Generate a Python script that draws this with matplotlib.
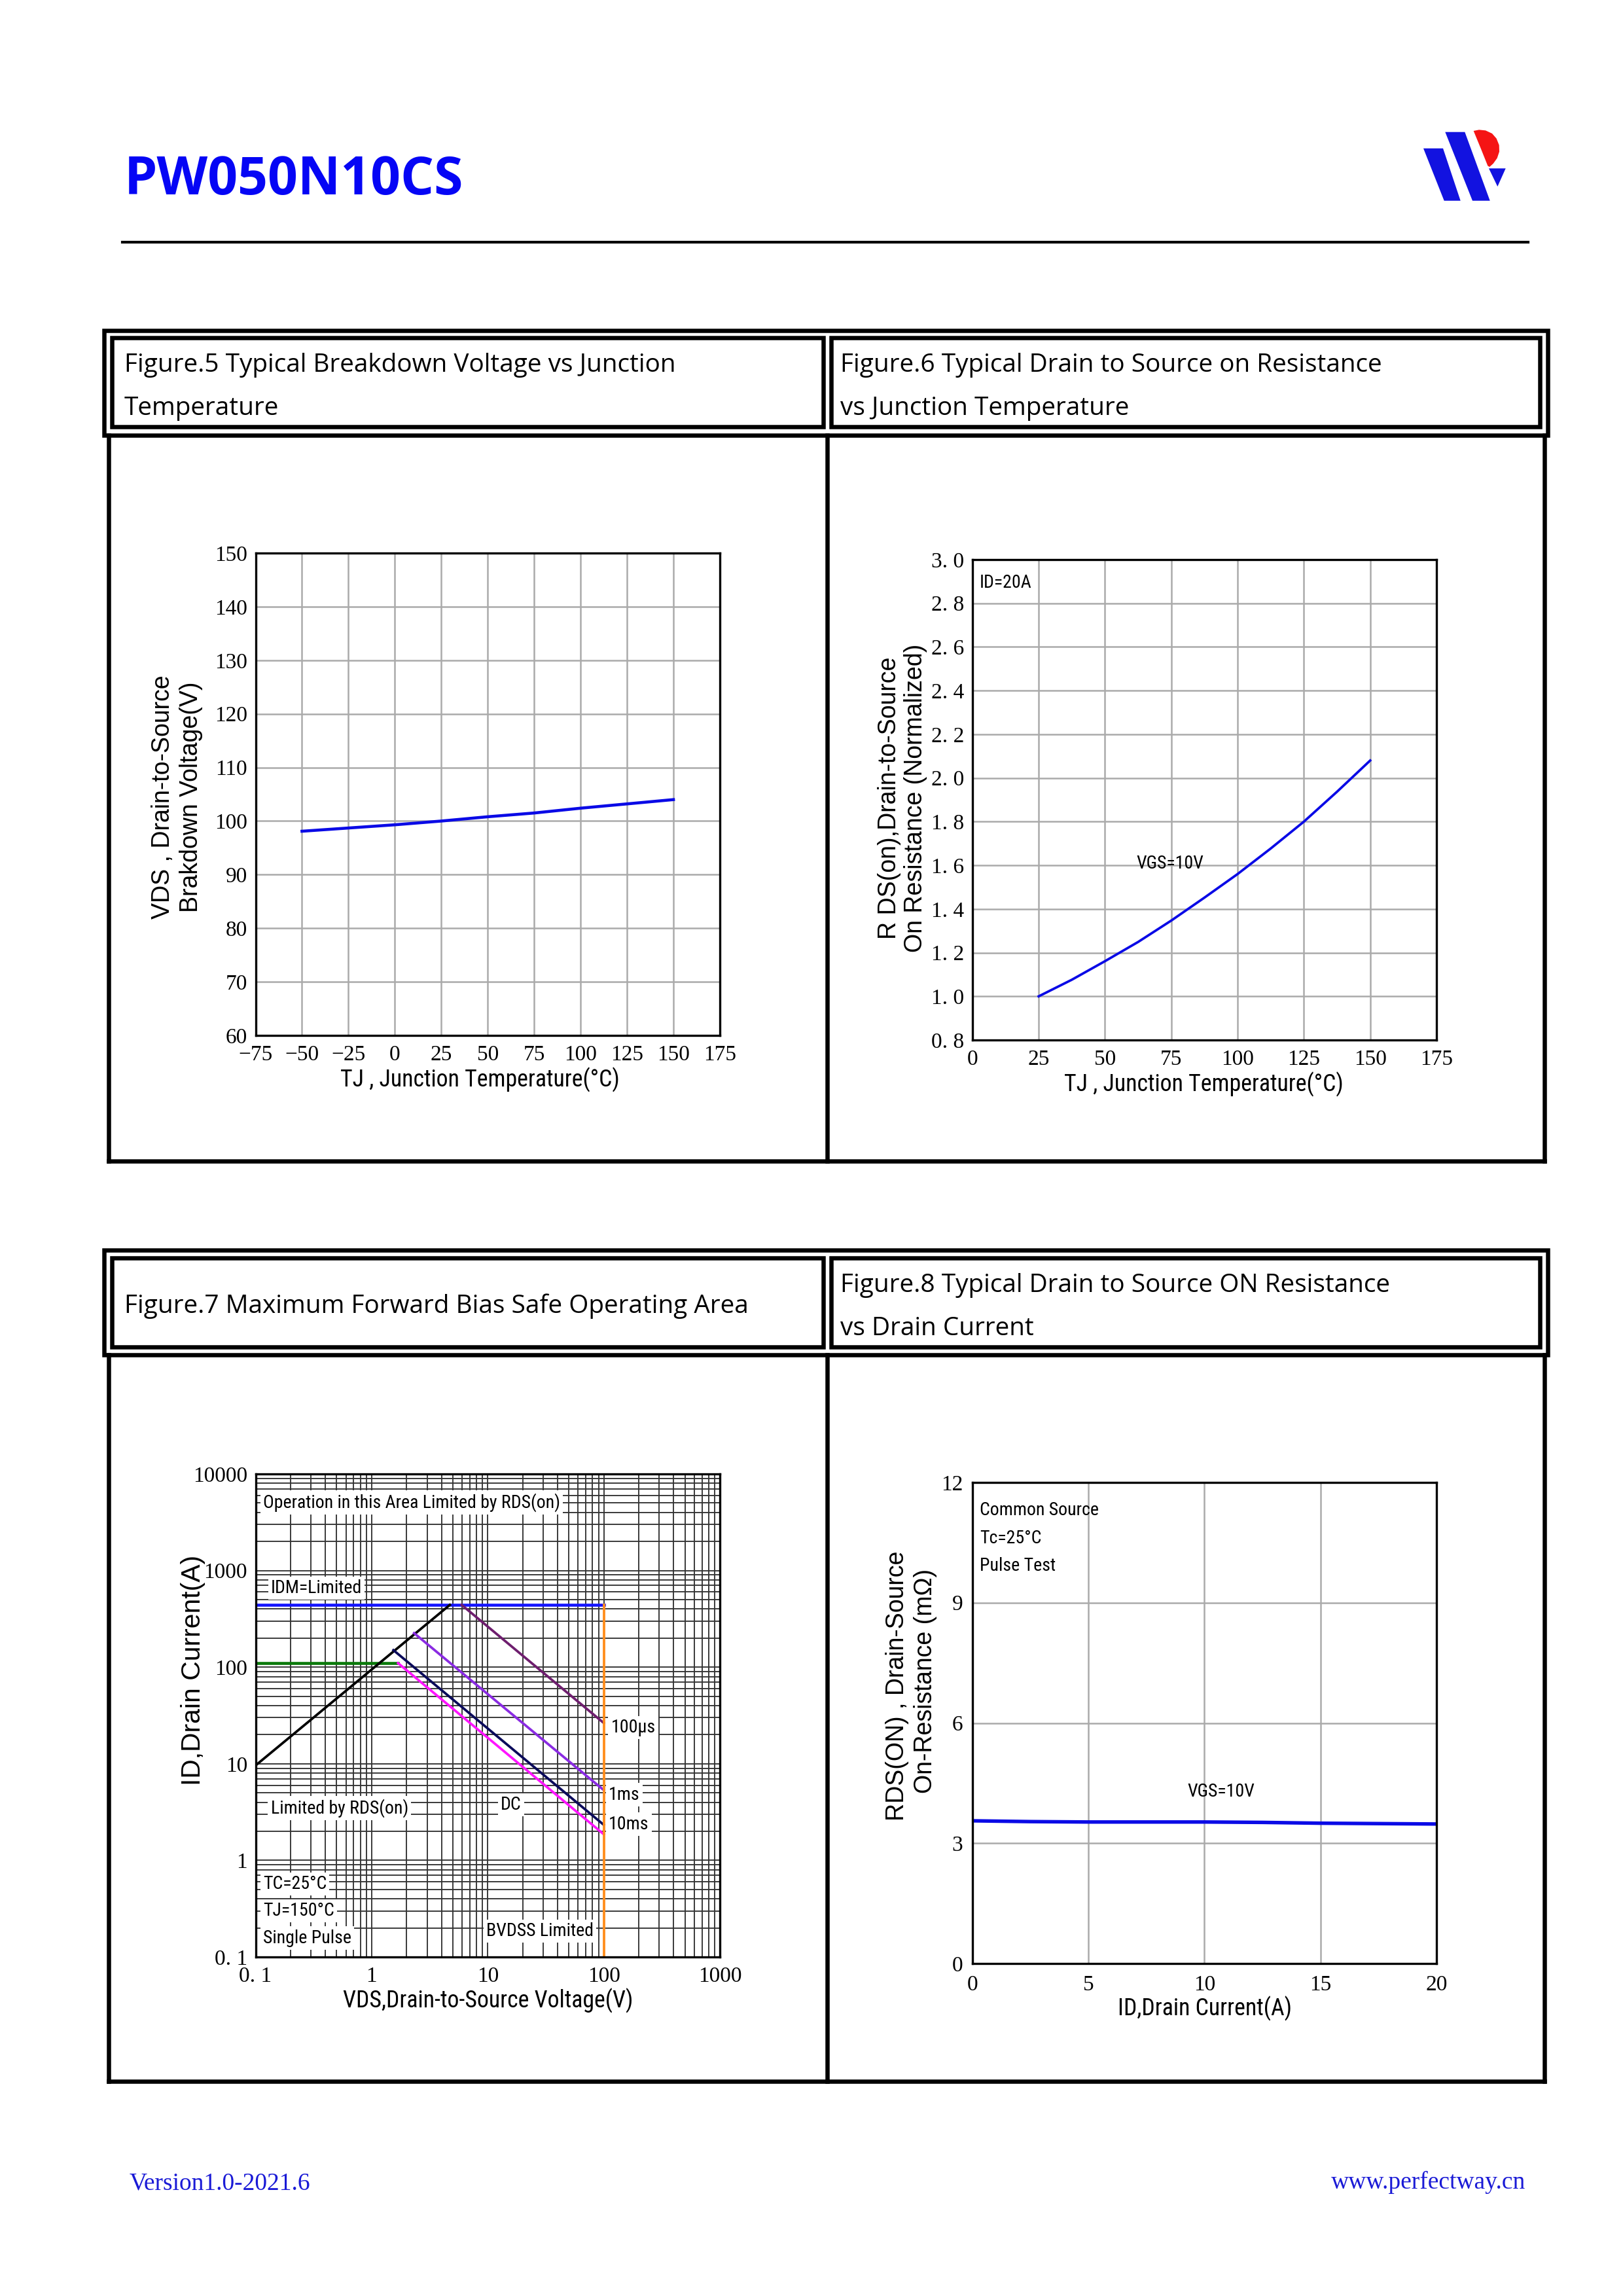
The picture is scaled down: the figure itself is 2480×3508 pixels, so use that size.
import matplotlib
matplotlib.use('Agg')
import matplotlib.pyplot as plt
from matplotlib import font_manager
from matplotlib.patches import Polygon, Rectangle
from matplotlib.ticker import LogLocator, NullFormatter

W, H = 2480, 3508

# ---- data ----
# Figure.5 breakdown voltage vs junction temperature
tj5 = [-50, -25, 0, 25, 50, 75, 100, 125, 150]
bv5 = [98.1, 98.7, 99.3, 100.0, 100.8, 101.5, 102.4, 103.2, 104.0]

# Figure.6 normalized RDS(on) vs junction temperature
tj6 = [25, 37.5, 50, 62.5, 75, 87.5, 100, 112.5, 125, 137.5, 150]
rn6 = [1.0, 1.076, 1.161, 1.249, 1.347, 1.452, 1.56, 1.677, 1.80, 1.937, 2.08]

# Figure.7 safe operating area (VDS, ID)
idm_v, idm_i = [0.1, 100], [441, 441]
lim_v, lim_i = [0.1, 1.69], [110, 110]
rds_v, rds_i = [0.1, 4.72], [9.6, 441]
us100_v, us100_i = [5.96, 100], [441, 26.4]
ms1_v, ms1_i = [2.32, 100], [225, 5.33]
ms10_v, ms10_i = [1.54, 100], [150, 2.33]
dc_v, dc_i = [1.69, 100], [110, 1.86]
bv_v, bv_i = [100, 100], [0.1, 441]

# Figure.8 RDS(on) vs drain current
id8 = [0, 2.5, 5, 7.5, 10, 12.5, 15, 17.5, 20]
r8 = [3.56, 3.54, 3.53, 3.53, 3.53, 3.52, 3.50, 3.49, 3.48]

SERIF = ['Liberation Serif', 'DejaVu Serif']
SANS = ['Liberation Sans', 'DejaVu Sans']
HEAD = ['Open Sans', 'Noto Sans', 'DejaVu Sans']

# condensed font for the small labels if one exists, else plain sans made smaller
NARROW, nw = SANS, 1.0
for name, w in [('Liberation Sans Narrow', 0.82), ('Arial Narrow', 0.82), ('Roboto Condensed', 0.88)]:
    try:
        font_manager.findfont(name, fallback_to_default=False)
        NARROW, nw = [name] + SANS, w
        break
    except ValueError:
        pass

fig = plt.figure(figsize=(W / 300, H / 300), dpi=300)

# page overlay in pixel coordinates
pg = fig.add_axes([0, 0, 1, 1])
pg.set_xlim(0, W)
pg.set_ylim(H, 0)
pg.axis('off')


def px(l, t, r, b):
    return [l / W, 1 - b / H, (r - l) / W, (b - t) / H]


def line(x, y, lw=1.56):
    pg.plot(x, y, color='black', lw=lw, solid_capstyle='projecting')


def rect(l, t, r, b, lw=1.56):
    pg.add_patch(Rectangle((l, t), r - l, b - t, fill=False, ec='black', lw=lw))


# header
pg.text(190, 297, 'PW050N10CS', family=HEAD, weight='bold', fontsize=19.3,
        color='#0505f5', va='baseline', ha='left')
line([187, 2335], [370, 370], lw=1.0)

# logo
pg.add_patch(Polygon([(2175, 226.7), (2205, 226.7), (2231.7, 306.7), (2206.7, 306.7)],
                     closed=True, fc='#1212e0', ec='none'))
pg.add_patch(Polygon([(2208.3, 201.7), (2238.3, 201.7), (2276.7, 306.7), (2250, 306.7)],
                     closed=True, fc='#1212e0', ec='none'))
red = [(305, 90), (330, 85), (360, 88), (390, 102), (410, 125), (422, 155), (423, 185),
       (413, 215), (395, 240), (378, 255), (370, 250), (340, 175)]
pg.add_patch(Polygon([(x / 3 + 2150, y / 3 + 170) for x, y in red], closed=True,
                     fc='#f51414', ec='none'))
pg.add_patch(Polygon([(2275, 257.3), (2300.7, 257.3), (2288.3, 285)], closed=True,
                     fc='#1212e0', ec='none'))

# table frames
L, M, R = 165.7, 1264, 2360
for top, bot in [(504.7, 1774.3), (1910, 3180)]:
    hb = top + 160
    rect(159.3, top, 2365, hb)
    rect(171.3, top + 11.5, 1258, hb - 12.4)
    rect(1270, top + 11.5, 2353, hb - 12.4)
    line([L, L], [hb, bot])
    line([M, M], [hb, bot])
    line([R, R], [hb, bot])
    line([L, R], [bot, bot])

hfs = 9.3
pg.text(190, 568, 'Figure.5 Typical Breakdown Voltage vs Junction', family=HEAD, fontsize=hfs, va='baseline')
pg.text(190, 634, 'Temperature', family=HEAD, fontsize=hfs, va='baseline')
pg.text(1284, 568, 'Figure.6 Typical Drain to Source on Resistance', family=HEAD, fontsize=hfs, va='baseline')
pg.text(1284, 634, 'vs Junction Temperature', family=HEAD, fontsize=hfs, va='baseline')
pg.text(190, 2006, 'Figure.7 Maximum Forward Bias Safe Operating Area', family=HEAD, fontsize=hfs, va='baseline')
pg.text(1284, 1974, 'Figure.8 Typical Drain to Source ON Resistance', family=HEAD, fontsize=hfs, va='baseline')
pg.text(1284, 2040, 'vs Drain Current', family=HEAD, fontsize=hfs, va='baseline')

# footer
pg.text(198, 3345, 'Version1.0-2021.6', family=SERIF, fontsize=9, color='#1a1ad6', va='baseline')
pg.text(2331, 3344, 'www.perfectway.cn', family=SERIF, fontsize=9, color='#1a1ad6',
        va='baseline', ha='right')

# axis titles placed on the page
xfs, yfs = 7.55 / nw, 9.0
pg.text(733, 1650, 'TJ , Junction Temperature(°C)', family=NARROW, fontsize=xfs, ha='center', va='center')
pg.text(248.6, 1218, 'VDS , Drain-to-Source', family=SANS, fontsize=yfs, rotation=90, ha='center', va='center')
pg.text(291.6, 1218, 'Brakdown Voltage(V)', family=SANS, fontsize=yfs, rotation=90, ha='center', va='center')
pg.text(1839, 1657, 'TJ , Junction Temperature(°C)', family=NARROW, fontsize=xfs, ha='center', va='center')
pg.text(1358.8, 1219, 'R DS(on),Drain-to-Source', family=SANS, fontsize=yfs, rotation=90, ha='center', va='center')
pg.text(1399.3, 1219, 'On Resistance (Normalized)', family=SANS, fontsize=yfs, rotation=90, ha='center', va='center')
pg.text(746, 3057, 'VDS,Drain-to-Source Voltage(V)', family=NARROW, fontsize=xfs, ha='center', va='center')
pg.text(294.5, 2552, 'ID,Drain Current(A)', family=SANS, fontsize=9.8, rotation=90, ha='center', va='center')
pg.text(1841, 3069, 'ID,Drain Current(A)', family=NARROW, fontsize=xfs, ha='center', va='center')
pg.text(1370.7, 2576, 'RDS(ON) , Drain-Source', family=SANS, fontsize=yfs, rotation=90, ha='center', va='center')
pg.text(1414.2, 2568, 'On-Resistance (mΩ)', family=SANS, fontsize=yfs, rotation=90, ha='center', va='center')


def style(ax, gcol='#aaaaaa', glw=0.6):
    for s in ax.spines.values():
        s.set_linewidth(0.8)
    ax.tick_params(which='both', length=0, labelsize=8, pad=3.5)
    ax.tick_params(axis='y', pad=3)
    for lab in ax.get_xticklabels() + ax.get_yticklabels():
        lab.set_family(SERIF)
    ax.grid(True, which='major', color=gcol, lw=glw)
    ax.set_axisbelow(True)


afs = 5.9 / nw

# Figure.5
ax5 = fig.add_axes(px(390.5, 845, 1100, 1582))
ax5.plot(tj5, bv5, color='#0a0ae6', lw=1.1)
ax5.set_xlim(-75, 175)
ax5.set_ylim(60, 150)
ax5.set_xticks(range(-75, 176, 25))
ax5.set_yticks(range(60, 151, 10))
style(ax5)

# Figure.6
ax6 = fig.add_axes(px(1485.8, 855, 2195, 1589))
ax6.plot(tj6, rn6, color='#0a0ae6', lw=0.9)
ax6.set_xlim(0, 175)
ax6.set_ylim(0.8, 3.0)
ax6.set_xticks(range(0, 176, 25))
yt6 = [0.8, 1.0, 1.2, 1.4, 1.6, 1.8, 2.0, 2.2, 2.4, 2.6, 2.8, 3.0]
ax6.set_yticks(yt6)
ax6.set_yticklabels([('%.1f' % v).replace('.', '. ') for v in yt6])
style(ax6)
ax6.text(2.78, 2.895, 'ID=20A', family=NARROW, fontsize=afs, va='center')
ax6.text(61.9, 1.609, 'VGS=10V', family=NARROW, fontsize=afs, va='center')

# Figure.7
ax7 = fig.add_axes(px(390.5, 2252, 1100, 2990))
ax7.set_xscale('log')
ax7.set_yscale('log')
ax7.plot(idm_v, idm_i, color='#1414ff', lw=1.1)
ax7.plot(lim_v, lim_i, color='#0a7a0a', lw=1.1)
ax7.plot(rds_v, rds_i, color='black', lw=0.9)
ax7.plot(us100_v, us100_i, color='#6e1e6e', lw=0.9)
ax7.plot(ms1_v, ms1_i, color='#8a2be2', lw=0.9)
ax7.plot(ms10_v, ms10_i, color='#0a0a5a', lw=0.9)
ax7.plot(dc_v, dc_i, color='#ff14ff', lw=0.9)
ax7.plot(bv_v, bv_i, color='#ff8c1a', lw=0.9)
ax7.set_xlim(0.1, 1000)
ax7.set_ylim(0.1, 10000)
ax7.set_xticks([0.1, 1, 10, 100, 1000])
ax7.set_xticklabels(['0. 1', '1', '10', '100', '1000'])
ax7.set_yticks([0.1, 1, 10, 100, 1000, 10000])
ax7.set_yticklabels(['0. 1', '1', '10', '100', '1000', '10000'])
ax7.xaxis.set_minor_locator(LogLocator(base=10, subs=range(2, 10)))
ax7.yaxis.set_minor_locator(LogLocator(base=10, subs=range(2, 10)))
ax7.xaxis.set_minor_formatter(NullFormatter())
ax7.yaxis.set_minor_formatter(NullFormatter())
style(ax7, gcol='#333333', glw=0.45)
ax7.grid(True, which='minor', color='#333333', lw=0.45)
bb = dict(facecolor='white', edgecolor='none', pad=1)
notes7 = [(0.1158, 5093, 'Operation in this Area Limited by RDS(on)'),
          (0.1352, 655, 'IDM=Limited'),
          (115, 23.7, '100μs'),
          (110, 4.78, '1ms'),
          (110, 2.37, '10ms'),
          (12.9, 3.75, 'DC'),
          (0.135, 3.49, 'Limited by RDS(on)'),
          (0.1158, 0.568, 'TC=25°C'),
          (0.1158, 0.300, 'TJ=150°C'),
          (0.1158, 0.157, 'Single Pulse'),
          (9.7, 0.185, 'BVDSS Limited')]
for x, y, s in notes7:
    ax7.text(x, y, s, family=NARROW, fontsize=afs, va='center', bbox=bb)

# Figure.8
ax8 = fig.add_axes(px(1485.8, 2265, 2195, 3000))
ax8.plot(id8, r8, color='#0a0ae6', lw=1.3)
ax8.set_xlim(0, 20)
ax8.set_ylim(0, 12)
ax8.set_xticks([0, 5, 10, 15, 20])
ax8.set_yticks([0, 3, 6, 9, 12])
style(ax8)
ax8.tick_params(axis='y', pad=3.5)
ax8.tick_params(axis='x', pad=4.2)
ax8.text(0.31, 11.3, 'Common Source', family=NARROW, fontsize=afs, va='center')
ax8.text(0.31, 10.6, 'Tc=25°C', family=NARROW, fontsize=afs, va='center')
ax8.text(0.31, 9.92, 'Pulse Test', family=NARROW, fontsize=afs, va='center')
ax8.text(9.27, 4.29, 'VGS=10V', family=NARROW, fontsize=afs, va='center')

fig.savefig('out.png', dpi=300)
